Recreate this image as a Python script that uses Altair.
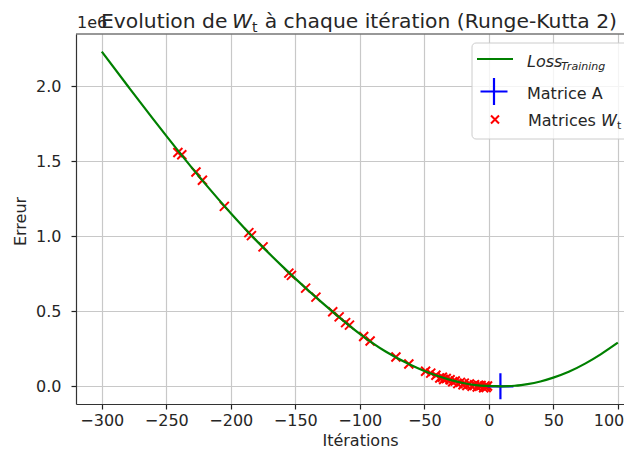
import altair as alt
import pandas as pd

# ---- data ----
curve_x = [-300, -280, -260, -240, -220, -200, -180, -160, -140, -120, -100,
           -80, -60, -50, -40, -30, -20, -10, 0, 5, 10, 15, 20, 25, 30, 40,
           50, 62, 75, 87, 100]
curve_y = [2233000, 2005000, 1780000, 1562000, 1352000, 1155000, 970000,
           800000, 640000, 490000, 350000, 232000, 140000, 102000, 70000,
           43000, 22000, 8500, 2500, 600, 0, 900, 3600, 8100, 14400, 32400,
           58000, 97000, 153000, 215000, 291000]

wt_x = [-241, -238, -227, -222, -205, -186, -184, -175, -155, -153, -142,
        -134, -121, -116, -111, -108, -97, -92, -72, -62, -49, -45, -41,
        -38, -36, -35, -33, -30, -28, -26, -24, -22, -20, -19, -17, -15,
        -13, -11, -9, -8, -6, -4, -3, -2, -1]
wt_y = [1560000, 1545000, 1430000, 1375000, 1200000, 1025000, 1005000,
        930000, 755000, 740000, 655000, 595000, 497000, 463000, 425000,
        408000, 332000, 302000, 195000, 149000, 100000, 88000, 74000,
        55000, 60000, 45000, 52000, 44000, 30000, 35000, 18000, 26000,
        10000, 21000, 5000, 15000, 0, 10000, -5000, 7000, 5000, -10000,
        3000, -8000, 2000]

matrice_a_x = [9]
matrice_a_y = [0]

x_ticks = [-300, -250, -200, -150, -100, -50, 0, 50, 100]
y_ticks = [0, 500000, 1000000, 1500000, 2000000]

title_parts = ["Evolution de ", "W", "t", " à chaque itération (Runge-Kutta 2)"]
legend_labels = ["Loss", "Training", "Matrice A", "Matrices ", "W", "t"]

# ---- styling ----
FONT = "DejaVu Sans"
FS = 16
TFS = 20.3
TXT = "#262626"
W, H = 548, 370

curve_df = pd.DataFrame({"x": curve_x, "y": curve_y})
wt_df = pd.DataFrame({"x": wt_x, "y": wt_y})
a_df = pd.DataFrame({"x": matrice_a_x, "y": matrice_a_y})
one = pd.DataFrame({"k": [0]})

xscale = alt.Scale(domain=[-320, 104.8], nice=False, zero=False)
yscale = alt.Scale(domain=[-118000, 2350000], nice=False, zero=False)

x_axis = alt.Axis(
    values=x_ticks, format="d", title="Itérations",
    grid=True, gridColor="#c8c8c8", gridWidth=1.2,
    tickSize=5, tickWidth=1.2, tickColor="#222222",
    domainColor="#333333", domainWidth=1.2,
    labelFont=FONT, labelFontSize=FS, labelColor=TXT, labelPadding=3,
    labelFlush=False, labelOverlap=False,
    labelAlign={"condition": {"test": "datum.value == 100", "value": "right"},
                "value": "center"},
    labelOffset={"condition": {"test": "datum.value == 100", "value": 6},
                 "value": 0},
    titleFont=FONT, titleFontSize=FS, titleFontWeight="normal", titleColor=TXT,
    titleX=284, titleY=36, titleAlign="center", titleBaseline="middle",
)
y_axis = alt.Axis(
    values=y_ticks, title="Erreur",
    labelExpr="format(datum.value / 1000000, '.1f')",
    grid=True, gridColor="#c8c8c8", gridWidth=1.2,
    tickSize=5, tickWidth=1.2, tickColor="#222222",
    domainColor="#333333", domainWidth=1.2,
    labelFont=FONT, labelFontSize=FS, labelColor=TXT, labelPadding=10,
    labelFlush=False, labelOverlap=False,
    titleFont=FONT, titleFontSize=FS, titleFontWeight="normal", titleColor=TXT,
    titleX=-56, titleY=187, titleAngle=270, titleAlign="center",
    titleBaseline="middle",
)

X = alt.X("x:Q", scale=xscale, axis=x_axis)
Y = alt.Y("y:Q", scale=yscale, axis=y_axis)
Xn = alt.X("x:Q", scale=xscale)
Yn = alt.Y("y:Q", scale=yscale)

XSHAPE = "M-1,-1L1,1M-1,1L1,-1"
PSHAPE = "M-1,0L1,0M0,-1L0,1"

wt_layer = alt.Chart(wt_df).mark_point(
    shape=XSHAPE, size=81, strokeWidth=2, color="#ff0000", filled=False, opacity=1
).encode(x=X, y=Y)

a_layer = alt.Chart(a_df).mark_point(
    shape=PSHAPE, size=676, strokeWidth=2.2, color="#0000ff", filled=False, opacity=1
).encode(x=Xn, y=Yn)

curve_layer = alt.Chart(curve_df).mark_line(
    color="#008000", strokeWidth=2.2, interpolate="monotone"
).encode(x=Xn, y=Yn)

top_spine = alt.Chart(one).mark_rule(color="#333333", strokeWidth=1.2).encode(
    x=alt.value(0), x2=alt.value(W), y=alt.value(0))


def txt(s, x, y, size=FS, style="normal", align="left"):
    return alt.Chart(one).mark_text(
        text=s, font=FONT, fontSize=size, fontStyle=style, color=TXT,
        align=align, baseline="alphabetic"
    ).encode(x=alt.value(x), y=alt.value(y))


# title and offset text
texts = [
    txt("1e6", 1, -6),
    txt(title_parts[0], 25, -6, size=TFS),
    txt(title_parts[1], 156, -6, size=TFS, style="italic"),
    txt(title_parts[2], 176, -2, size=14),
    txt(title_parts[3], 541, -6, size=TFS, align="right"),
]

# legend
leg_box = alt.Chart(one).mark_rect(
    fill="white", fillOpacity=0.8, stroke="#cccccc", strokeWidth=1, cornerRadius=4
).encode(x=alt.value(396), x2=alt.value(640), y=alt.value(9), y2=alt.value(105))
leg_line = alt.Chart(one).mark_rule(color="#008000", strokeWidth=2.2).encode(
    x=alt.value(401), x2=alt.value(437), y=alt.value(25))
leg_a = alt.Chart(one).mark_point(
    shape=PSHAPE, size=729, strokeWidth=2.2, color="#0000ff", filled=False, opacity=1
).encode(x=alt.value(418), y=alt.value(57.5))
leg_w = alt.Chart(one).mark_point(
    shape=XSHAPE, size=64, strokeWidth=2, color="#ff0000", filled=False, opacity=1
).encode(x=alt.value(419), y=alt.value(85.5))
leg_texts = [
    txt(legend_labels[0], 451, 32.5, style="italic"),
    txt(legend_labels[1], 485, 35.5, size=11, style="italic"),
    txt(legend_labels[2], 451, 64.5),
    txt(legend_labels[3], 452, 91.5),
    txt(legend_labels[4], 525, 91.5, style="italic"),
    txt(legend_labels[5], 541, 94.5, size=11),
]

chart = alt.layer(
    wt_layer, a_layer, curve_layer, top_spine, *texts,
    leg_box, leg_line, leg_a, leg_w, *leg_texts
).properties(
    width=W, height=H,
    padding={"left": 68, "top": 26, "right": 0, "bottom": 44},
    autosize=alt.AutoSizeParams(type="none"),
    background="white",
).configure_view(strokeWidth=0)

chart.save("out.html", embed_options={"renderer": "svg", "actions": False})
